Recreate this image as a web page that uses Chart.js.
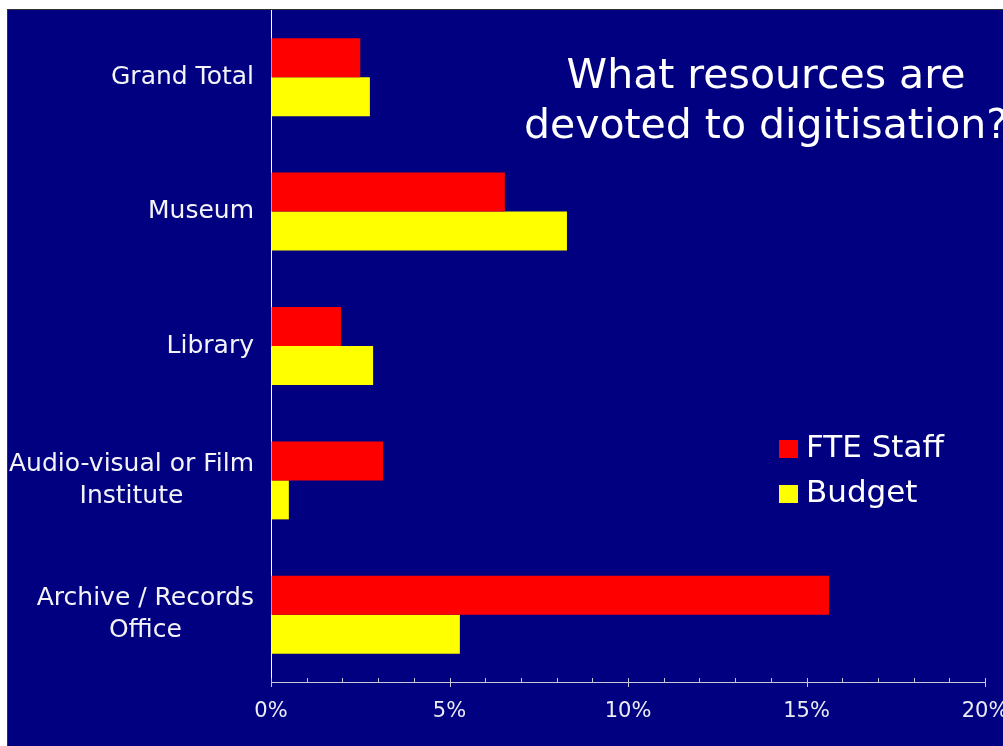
<!DOCTYPE html>
<html>
<head>
<meta charset="utf-8">
<script src="https://cdn.jsdelivr.net/npm/chart.js@4.4.1/dist/chart.umd.min.js"></script>
<style>
  html, body { margin: 0; padding: 0; background: #fff; overflow: hidden; }
  #frame {
    position: absolute; left: 7px; top: 9px;
    border-left: 1px solid #333; border-top: 1px solid #333;
    background: #000080;
    width: 1020px; height: 736px;
  }
  #chart { display: block; }
</style>
</head>
<body>
<div id="frame"><canvas id="chart" width="1020" height="736"></canvas></div>
<script>
// categories, top to bottom
const categories = [
    'Grand Total',
    'Museum',
    'Library',
    ['Audio-visual or Film', 'Institute'],
    ['Archive / Records', 'Office']
];
const fteStaff = [2.5, 6.55, 1.96, 3.14, 15.63];
const budget = [2.77, 8.29, 2.86, 0.5, 5.29];
const xTicks = [0, 5, 10, 15, 20];
const titleLines = ['What resources are', 'devoted to digitisation?'];

const FONT = '"DejaVu Sans", Verdana, sans-serif';

// small ticks along the x axis, every 1%, longer ones at each labelled value
const axisTicks = {
    id: 'axisTicks',
    afterDraw(chart) {
        const ctx = chart.ctx;
        const x = chart.scales.x;
        const y0 = chart.chartArea.bottom;
        ctx.save();
        ctx.strokeStyle = '#c8c8d8';
        ctx.lineWidth = 1;
        for (let v = 0; v <= 20; v++) {
            const px = Math.round(x.getPixelForValue(v)) + 0.5;
            ctx.beginPath();
            ctx.moveTo(px, y0 - 4);
            ctx.lineTo(px, xTicks.includes(v) ? y0 + 5 : y0);
            ctx.stroke();
        }
        ctx.restore();
    }
};

// category labels: block right-aligned to the axis, lines centred in the block
const categoryLabels = {
    id: 'categoryLabels',
    afterDraw(chart) {
        const ctx = chart.ctx;
        const y = chart.scales.y;
        const right = y.right - 17;
        ctx.save();
        ctx.fillStyle = '#f4f4f8';
        ctx.font = '25px ' + FONT;
        ctx.textAlign = 'center';
        ctx.textBaseline = 'middle';
        chart.data.labels.forEach((lab, i) => {
            const lines = Array.isArray(lab) ? lab : [lab];
            const w = Math.max(...lines.map(l => ctx.measureText(l).width));
            const cy = y.getPixelForTick(i);
            const lh = 32;
            lines.forEach((l, j) => {
                ctx.fillText(l, right - w / 2, cy + (j - (lines.length - 1) / 2) * lh);
            });
        });
        ctx.restore();
    }
};

// title and legend drawn inside the plot area
const overlay = {
    id: 'overlay',
    afterDraw(chart) {
        const ctx = chart.ctx;
        ctx.save();
        ctx.fillStyle = '#ffffff';
        ctx.font = '41px ' + FONT;
        ctx.textAlign = 'center';
        ctx.textBaseline = 'middle';
        titleLines.forEach((t, i) => ctx.fillText(t, 758, 67 + i * 50));

        ctx.font = '31px ' + FONT;
        ctx.textAlign = 'left';
        chart.data.datasets.forEach((ds, i) => {
            const y = 439 + i * 45;
            ctx.fillStyle = ds.backgroundColor;
            ctx.fillRect(771, y - 9, 19, 18);
            ctx.fillStyle = '#ffffff';
            ctx.fillText(ds.label, 798, y);
        });
        ctx.restore();
    }
};

new Chart(document.getElementById('chart').getContext('2d'), {
    type: 'bar',
    data: {
        labels: categories,
        datasets: [{
            label: 'FTE Staff',
            data: fteStaff,
            backgroundColor: '#FF0000',
            borderWidth: 0
        }, {
            label: 'Budget',
            data: budget,
            backgroundColor: '#FFFF00',
            borderWidth: 0
        }]
    },
    options: {
        indexAxis: 'y',
        responsive: false,
        animation: false,
        devicePixelRatio: 1,
        categoryPercentage: 0.58,
        barPercentage: 1,
        layout: { padding: { left: 0, right: 43, top: 0, bottom: 0 } },
        plugins: {
            legend: { display: false },
            title: { display: false },
            tooltip: { enabled: false }
        },
        scales: {
            x: {
                min: 0,
                max: 20,
                afterFit: s => { s.height = 64; },
                afterBuildTicks: s => { s.ticks = xTicks.map(v => ({ value: v })); },
                grid: { drawOnChartArea: false, drawTicks: false },
                border: { display: true, color: '#c8c8d8', width: 1 },
                ticks: {
                    padding: 17,
                    color: '#ececf4',
                    font: { family: FONT, size: 21 },
                    callback: v => v + '%',
                    maxRotation: 0
                }
            },
            y: {
                afterFit: s => {
                    s.width = 263;
                    s.paddingTop = 0;
                    s.paddingBottom = 0;
                },
                grid: { drawOnChartArea: false, drawTicks: false },
                border: { display: true, color: '#ffffff', width: 1 },
                ticks: { display: false }
            }
        }
    },
    plugins: [axisTicks, categoryLabels, overlay]
});
</script>
</body>
</html>
